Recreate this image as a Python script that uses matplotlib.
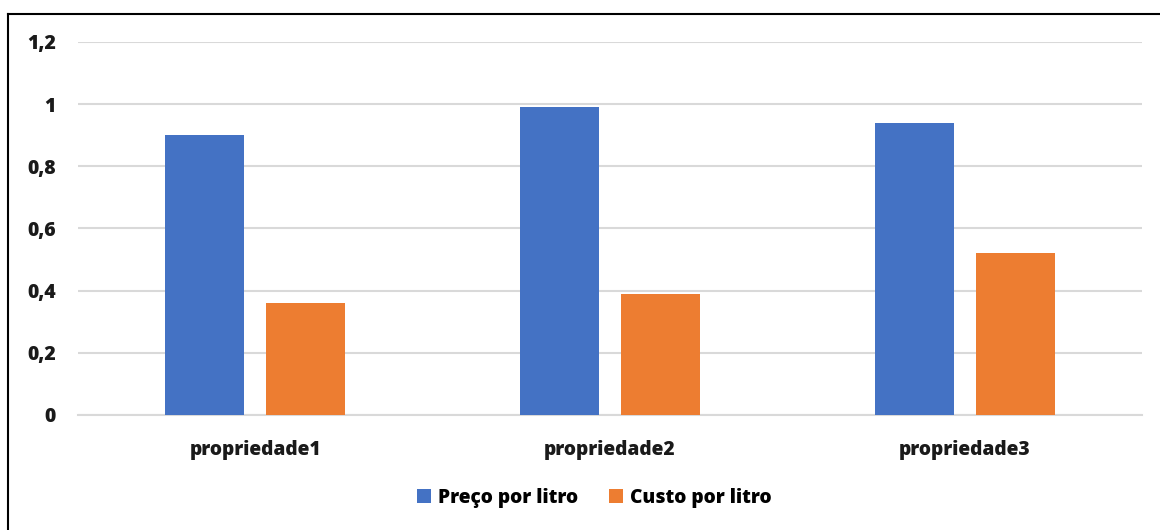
import matplotlib
matplotlib.use("Agg")
import matplotlib.pyplot as plt
import numpy as np
from matplotlib.lines import Line2D
from matplotlib.patches import Patch

categories = ["propriedade1", "propriedade2", "propriedade3"]
preco = [0.90, 0.99, 0.94]
custo = [0.36, 0.39, 0.52]
yticks = [0, 0.2, 0.4, 0.6, 0.8, 1.0, 1.2]
ytick_labels = ["0", "0,2", "0,4", "0,6", "0,8", "1", "1,2"]
series_names = ["Preço por litro", "Custo por litro"]
colors = ["#4472C4", "#ED7D31"]

plt.rcParams['font.family'] = ['Open Sans', 'DejaVu Sans']
W, H = 1160, 530
fig = plt.figure(figsize=(W/100, H/100), dpi=100)
ax = fig.add_axes([78/W, 1-415/H, (1142-78)/W, (415-42)/H])

x = np.arange(len(categories))
bw = 0.223
gap = 0.062
ax.bar(x - (bw+gap)/2, preco, width=bw, color=colors[0], zorder=3)
ax.bar(x + (bw+gap)/2, custo, width=bw, color=colors[1], zorder=3)

fw = 'heavy'
ax.set_xlim(-0.5, len(categories)-0.5)
ax.set_ylim(0, 1.2)
ax.set_yticks(yticks)
ax.set_yticklabels(ytick_labels, fontsize=14, fontweight=fw, color='#1a1a1a')
ax.set_xticks(x)
ax.set_xticklabels(categories, fontsize=13.8, fontweight=fw, color='#1a1a1a')
ax.tick_params(axis='y', length=0, pad=16)
ax.tick_params(axis='x', length=0, pad=18)
ax.grid(axis='y', color='#d9d9d9', linewidth=1.5, zorder=0)
for s in ['top', 'right', 'left']:
    ax.spines[s].set_visible(False)
ax.spines['bottom'].set_color('#d9d9d9')
ax.spines['bottom'].set_linewidth(1.5)

handles = [Patch(facecolor=c) for c in colors]
fig.legend(handles, series_names, loc='center', bbox_to_anchor=(594/W, 1-498/H),
           ncol=2, frameon=False, prop={'size': 13.8, 'weight': fw},
           handlelength=0.75, handleheight=0.75, handletextpad=0.35, columnspacing=1.6)

# outer border
fig.add_artist(Line2D([7.5/W, 1], [1-13.5/H, 1-13.5/H], transform=fig.transFigure, color='black', linewidth=1.5))
fig.add_artist(Line2D([7.5/W, 7.5/W], [0, 1-13.5/H], transform=fig.transFigure, color='black', linewidth=1.5))

fig.savefig("out.png", dpi=100, facecolor='white')
